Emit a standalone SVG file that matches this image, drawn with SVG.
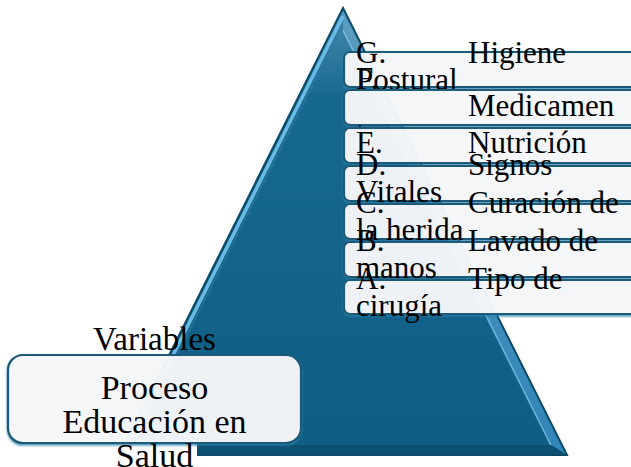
<svg xmlns="http://www.w3.org/2000/svg" width="631" height="467" viewBox="0 0 631 467">
<defs>
<linearGradient id="face" x1="0" y1="8" x2="0" y2="455" gradientUnits="userSpaceOnUse">
<stop offset="0" stop-color="#4a8cb1"/>
<stop offset="0.2" stop-color="#17688f"/>
<stop offset="1" stop-color="#0e5d84"/>
</linearGradient>
<linearGradient id="rbev" x1="0" y1="8" x2="0" y2="455" gradientUnits="userSpaceOnUse">
<stop offset="0" stop-color="#5c9bbf"/>
<stop offset="1" stop-color="#2f86b8"/>
</linearGradient>
<filter id="sh" x="-5%" y="-20%" width="110%" height="150%">
<feDropShadow dx="0" dy="1.5" stdDeviation="1" flood-color="#2c7fa8" flood-opacity="0.9"/>
</filter>
</defs>
<style>
.t{font-family:"Liberation Serif","Times New Roman",serif;fill:#000;}
.p{font-size:31px;}
.b{font-size:34px;}
.box{fill:#ffffff;fill-opacity:0.88;stroke:#1e5a77;stroke-width:2.2;}
</style>
<g id="pyramid">
<polygon points="343,8 567,455 119,455" fill="url(#face)"/>
<polygon points="343,8 567,455 550.8,445 343,30.3" fill="url(#rbev)"/>
<line x1="343" y1="30.3" x2="550.8" y2="445" stroke="#86c6e8" stroke-width="1.5" stroke-opacity="0.8"/>
<polygon points="119,455 567,455 550.8,445 133,445" fill="#0c4f71"/>
<line x1="343" y1="16" x2="127" y2="447" stroke="#6cbbe6" stroke-width="3.5"/>
<line x1="343" y1="24" x2="131" y2="447" stroke="#2e7aa6" stroke-width="2" stroke-opacity="0.6"/>
<polygon points="343,8 567,455 119,455" fill="none" stroke="#0d4a69" stroke-width="2"/>
<rect x="112" y="444" width="85" height="23" fill="#ffffff"/>
</g>
<g id="boxG">
<rect class="box" x="344" y="52" width="310" height="35" rx="6" filter="url(#sh)"/>
<text class="t p" x="356" y="63">G.</text>
<text class="t p" x="468" y="63">Higiene</text>
<text class="t p" x="356" y="90">Postural</text>
</g>
<g id="boxF">
<rect class="box" x="344" y="90" width="310" height="35" rx="6" filter="url(#sh)"/>
<text class="t p" x="356" y="89">F.</text>
<text class="t p" x="468" y="116">Medicamen</text>
<text class="t p" x="356" y="143">tos</text>
</g>
<g id="boxE">
<rect class="box" x="344" y="128" width="310" height="35" rx="6" filter="url(#sh)"/>
<text class="t p" x="356" y="153">E.</text>
<text class="t p" x="468" y="153">Nutrición</text>
</g>
<g id="boxD">
<rect class="box" x="344" y="166" width="310" height="35" rx="6" filter="url(#sh)"/>
<text class="t p" x="356" y="175">D.</text>
<text class="t p" x="468" y="175">Signos</text>
<text class="t p" x="356" y="202">Vitales</text>
</g>
<g id="boxC">
<rect class="box" x="344" y="204" width="310" height="35" rx="6" filter="url(#sh)"/>
<text class="t p" x="356" y="213">C.</text>
<text class="t p" x="468" y="213">Curación de</text>
<text class="t p" x="356" y="240">la herida</text>
</g>
<g id="boxB">
<rect class="box" x="344" y="242" width="310" height="35" rx="6" filter="url(#sh)"/>
<text class="t p" x="356" y="251">B.</text>
<text class="t p" x="468" y="251">Lavado de</text>
<text class="t p" x="356" y="278">manos</text>
</g>
<g id="boxA">
<rect class="box" x="344" y="280" width="310" height="34" rx="6" filter="url(#sh)"/>
<text class="t p" x="356" y="289">A.</text>
<text class="t p" x="468" y="289">Tipo de</text>
<text class="t p" x="356" y="316">cirugía</text>
</g>
<g id="variables">
<text class="t" font-size="33" x="154.5" y="350" text-anchor="middle">Variables</text>
</g>
<g id="proceso">
<rect class="box" x="8" y="355" width="293" height="88" rx="15" filter="url(#sh)"/>
<text class="t b" x="154.5" y="399" text-anchor="middle">Proceso</text>
<text class="t b" x="154.5" y="433" text-anchor="middle">Educación en</text>
<text class="t b" x="154.5" y="467" text-anchor="middle">Salud</text>
</g>
<g id="connectors"/>
</svg>
